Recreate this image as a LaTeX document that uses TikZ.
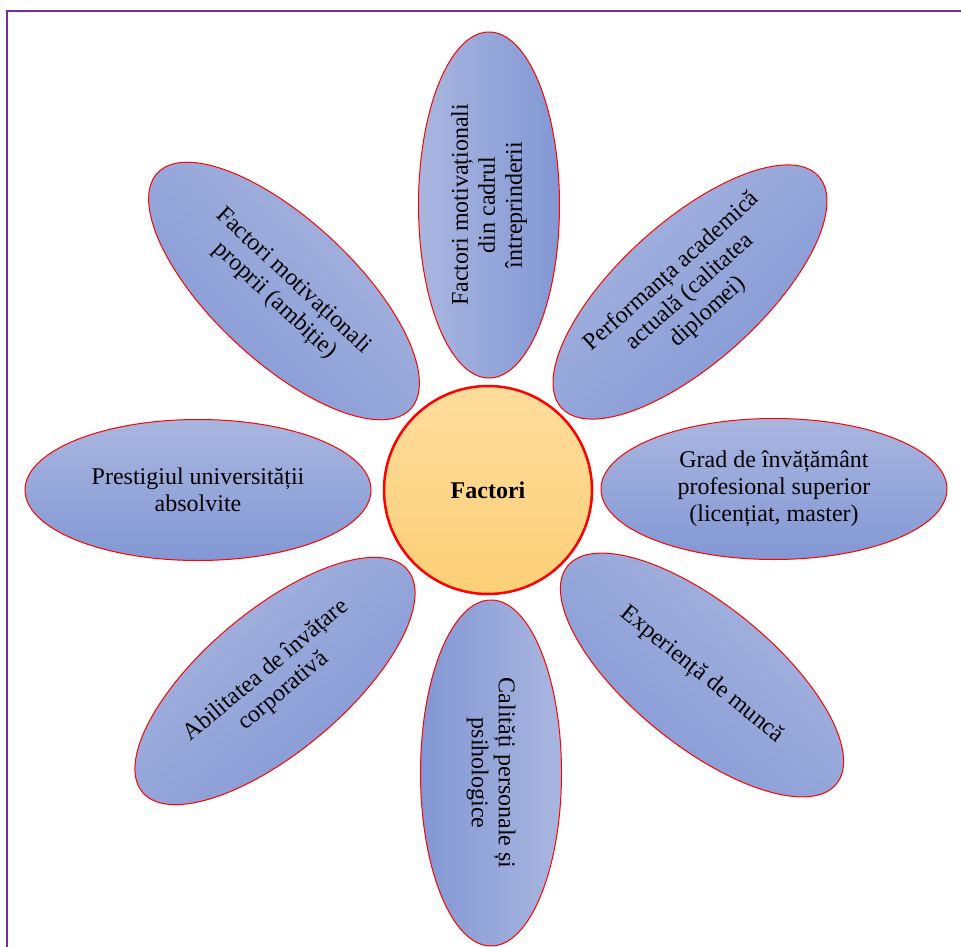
\documentclass[tikz,border=0pt]{standalone}
\usepackage{fontspec}
\setmainfont{Liberation Serif}
\usetikzlibrary{shapes.geometric}

\definecolor{petallight}{RGB}{169,182,223}
\definecolor{petaldark}{RGB}{130,151,212}
\definecolor{corelight}{RGB}{253,220,156}
\definecolor{coredark}{RGB}{253,208,120}
\definecolor{framepurple}{RGB}{112,48,160}

\begin{document}
\begin{tikzpicture}[x=1pt,y=-1pt,
    petal/.style={ellipse, draw=red, line width=1pt, top color=petallight, bottom color=petaldark,
        rotate=#1, shading angle=#1,
        minimum width=346pt, minimum height=141pt, inner sep=0pt, align=center,
        font=\fontsize{24}{27}\selectfont},
    petal/.default=0,
    core/.style={circle, draw=red, line width=2.5pt, top color=corelight, bottom color=coredark,
        minimum size=208pt, font=\fontsize{24}{27}\selectfont\bfseries}]
\useasboundingbox (0,0) rectangle (961,947);
\draw[framepurple, line width=2pt] (7,947) -- (7,11) -- (961,11);
% petals, clockwise from the top
\node[petal=90] (enterprise) at (489,205) {Factori motivaționali\\din cadrul\\întreprinderii};
\node[petal=42] (academic) at (690,292) {Performanța academică\\actuală (calitatea\\diplomei)};
\node[petal] (degree) at (774,489) {Grad de învățământ\\profesional superior\\(licențiat, master)};
\node[petal=-39] (experience) at (702,675) {Experiență de muncă};
\node[petal=-90] (qualities) at (491,773) {Calități personale și\\psihologice};
\node[petal=40] (learning) at (275,681) {Abilitatea de învățare\\corporativă};
\node[petal] (prestige) at (198,490) {Prestigiul universității\\absolvite};
\node[petal=-43] (ambition) at (284,291) {Factori motivaționali\\proprii (ambiție)};
% centre
\node[core] (factors) at (488,490) {Factori};
\end{tikzpicture}
\end{document}
